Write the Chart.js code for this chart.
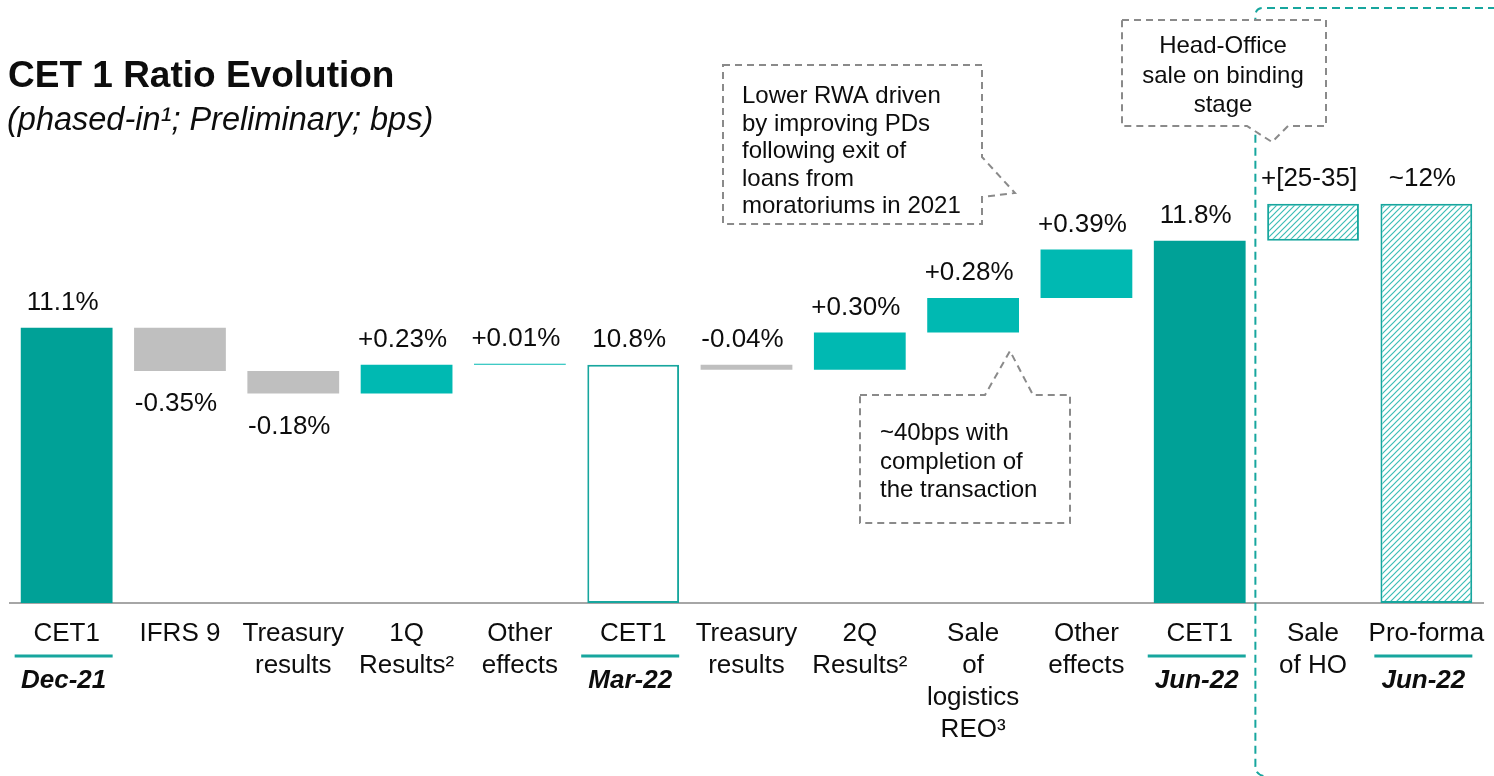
<!DOCTYPE html>
<html>
<head>
<meta charset="utf-8">
<script src="https://cdn.jsdelivr.net/npm/chart.js@4/dist/chart.umd.min.js"></script>
<style>
    html, body { margin: 0; padding: 0; background: #ffffff; }
    #wrap { position: relative; width: 1494px; height: 776px; }
</style>
</head>
<body>
<div id="wrap"><canvas id="myChart"></canvas></div>
<script>
const categories = [
    ["CET1"], ["IFRS 9"], ["Treasury", "results"], ["1Q", "Results²"], ["Other", "effects"],
    ["CET1"], ["Treasury", "results"], ["2Q", "Results²"], ["Sale", "of", "logistics", "REO³"],
    ["Other", "effects"], ["CET1"], ["Sale", "of HO"], ["Pro-forma"]
];
// ratio level for totals, change in % points for the steps in between
const steps = [11.1, -0.35, -0.18, 0.23, 0.01, 10.8, -0.04, 0.30, 0.28, 0.39, 11.8, 0.30, 12.1];
const isTotal = [true, false, false, false, false, true, false, false, false, false, true, false, true];
const valueLabels = ["11.1%", "-0.35%", "-0.18%", "+0.23%", "+0.01%", "10.8%", "-0.04%",
    "+0.30%", "+0.28%", "+0.39%", "11.8%", "+[25-35]", "~12%"];
const periods = ["Dec-21", "", "", "", "", "Mar-22", "", "", "", "", "Jun-22", "", "Jun-22"];
const proFormaFrom = 11; // first column of the pro-forma block

const yMin = 8.88;
const yMax = 13.5;

const FONT = "'Liberation Sans', Arial, sans-serif";
const DARK_TEAL = "#00a197";
const TEAL = "#00b9b2";
const LINE_TEAL = "#17a69e";
const GREY = "#bfbfbf";
const INK = "#0d0d0d";

// floating bars: totals stand on the axis, steps float from the running level
let run = 0;
const ranges = steps.map((v, i) =>
{
    if (isTotal[i])
    {
        run = v;
        return [yMin, v];
    }
    const r = [run, run + v];
    run += v;
    return r;
});

function hatchPattern()
{
    const s = 6;
    const c = document.createElement("canvas");
    c.width = s;
    c.height = s;
    const g = c.getContext("2d");
    g.fillStyle = "#ffffff";
    g.fillRect(0, 0, s, s);
    g.strokeStyle = "#3bbdb6";
    g.lineWidth = 1.2;
    g.beginPath();
    g.moveTo(0, s); g.lineTo(s, 0);
    g.moveTo(-1, 1); g.lineTo(1, -1);
    g.moveTo(s - 1, s + 1); g.lineTo(s + 1, s - 1);
    g.stroke();
    return g.createPattern(c, "repeat");
}

const hatch = hatchPattern();

const fills = steps.map((v, i) =>
{
    if (i >= proFormaFrom) return hatch;
    if (isTotal[i]) return periods[i] === "Mar-22" ? "#ffffff" : DARK_TEAL;
    return v < 0 ? GREY : TEAL;
});
const borders = steps.map((v, i) =>
    (i >= proFormaFrom || periods[i] === "Mar-22") ? 2 : 0);

function drawCallout(ctx, path, lines, x, y0, gap, align)
{
    ctx.save();
    ctx.beginPath();
    ctx.moveTo(path[0][0], path[0][1]);
    for (let k = 1; k < path.length; k++) ctx.lineTo(path[k][0], path[k][1]);
    ctx.closePath();
    ctx.fillStyle = "#ffffff";
    ctx.fill();
    ctx.setLineDash([7, 5]);
    ctx.strokeStyle = "#8a8a8a";
    ctx.lineWidth = 2;
    ctx.stroke();
    ctx.setLineDash([]);
    ctx.fillStyle = INK;
    ctx.font = "24px " + FONT;
    ctx.textAlign = align;
    ctx.textBaseline = "alphabetic";
    lines.forEach((t, k) => ctx.fillText(t, x, y0 + k * gap));
    ctx.restore();
}

const annotations = {
    id: "annotations",
    afterDatasetsDraw(chart)
    {
        const ctx = chart.ctx;
        const meta = chart.getDatasetMeta(0);
        ctx.save();
        ctx.font = "26px " + FONT;
        ctx.fillStyle = INK;
        ctx.textAlign = "center";
        ctx.textBaseline = "middle";
        meta.data.forEach((bar, i) =>
        {
            const top = Math.min(bar.y, bar.base);
            const bottom = Math.max(bar.y, bar.base);
            const below = !isTotal[i] && steps[i] <= -0.1;
            ctx.fillText(valueLabels[i], bar.x - 4, below ? bottom + 33 : top - 25);
        });
        ctx.restore();
    },
    afterDraw(chart)
    {
        const ctx = chart.ctx;
        const x = chart.scales.x;
        ctx.save();

        // heading
        ctx.fillStyle = INK;
        ctx.textAlign = "left";
        ctx.textBaseline = "alphabetic";
        ctx.font = "bold 37px " + FONT;
        ctx.fillText("CET 1 Ratio Evolution", 8, 87);
        ctx.font = "italic 32.5px " + FONT;
        ctx.fillText("(phased-in¹; Preliminary; bps)", 7, 130);

        // period under each CET1 column
        periods.forEach((p, i) =>
        {
            if (!p) return;
            const cx = x.getPixelForValue(i) - 3;
            ctx.strokeStyle = LINE_TEAL;
            ctx.lineWidth = 3;
            ctx.beginPath();
            ctx.moveTo(cx - 49, 656);
            ctx.lineTo(cx + 49, 656);
            ctx.stroke();
            ctx.fillStyle = INK;
            ctx.font = "italic bold 26px " + FONT;
            ctx.textAlign = "center";
            ctx.textBaseline = "middle";
            ctx.fillText(p, cx, 681);
        });

        // dashed frame round the pro-forma block
        const fx = (x.getPixelForValue(proFormaFrom - 1) + x.getPixelForValue(proFormaFrom)) / 2 - 1;
        ctx.strokeStyle = LINE_TEAL;
        ctx.lineWidth = 2;
        ctx.setLineDash([8, 5]);
        ctx.beginPath();
        ctx.moveTo(fx + 8, 776);
        ctx.quadraticCurveTo(fx, 774, fx, 766);
        ctx.lineTo(fx, 16);
        ctx.quadraticCurveTo(fx, 8, fx + 8, 8);
        ctx.lineTo(1494, 8);
        ctx.stroke();
        ctx.setLineDash([]);
        ctx.restore();

        drawCallout(ctx,
            [[723, 65], [982, 65], [982, 157], [1015, 193], [982, 197], [982, 224], [723, 224]],
            ["Lower RWA driven", "by improving PDs", "following exit of", "loans from", "moratoriums in 2021"],
            742, 103, 27.5, "left");
        drawCallout(ctx,
            [[860, 395], [985, 395], [1010, 351], [1033, 395], [1070, 395], [1070, 523], [860, 523]],
            ["~40bps with", "completion of", "the transaction"],
            880, 440, 28.5, "left");
        drawCallout(ctx,
            [[1122, 20], [1326, 20], [1326, 126], [1288, 126], [1272, 142], [1247, 126], [1122, 126]],
            ["Head-Office", "sale on binding", "stage"],
            1223, 53, 29.5, "center");
    }
};

let chart;

function InitializeChart()
{
    chart = new Chart(document.getElementById("myChart"), {
        type: "bar",
        data: {
            labels: categories,
            datasets: [{
                data: ranges,
                backgroundColor: fills,
                borderColor: LINE_TEAL,
                borderWidth: borders,
                borderSkipped: false,
                categoryPercentage: 1,
                barPercentage: 0.81
            }]
        },
        options: {
            responsive: true,
            maintainAspectRatio: false,
            animation: false,
            layout: {
                padding: { left: 10, right: 11, top: 30, bottom: 0 }
            },
            plugins: {
                legend: { display: false },
                tooltip: { enabled: false },
                title: { display: false }
            },
            scales: {
                x: {
                    grid: { display: false },
                    border: { display: true, color: "#a6a6a6", width: 2 },
                    ticks: {
                        autoSkip: false,
                        maxRotation: 0,
                        minRotation: 0,
                        padding: 7,
                        color: INK,
                        font: { family: FONT, size: 26, lineHeight: 1.23 }
                    },
                    afterFit: function (scale)
                    {
                        scale.height = 173;
                    }
                },
                y: {
                    display: false,
                    min: yMin,
                    max: yMax
                }
            }
        },
        plugins: [annotations]
    });
}

InitializeChart();
</script>
</body>
</html>
